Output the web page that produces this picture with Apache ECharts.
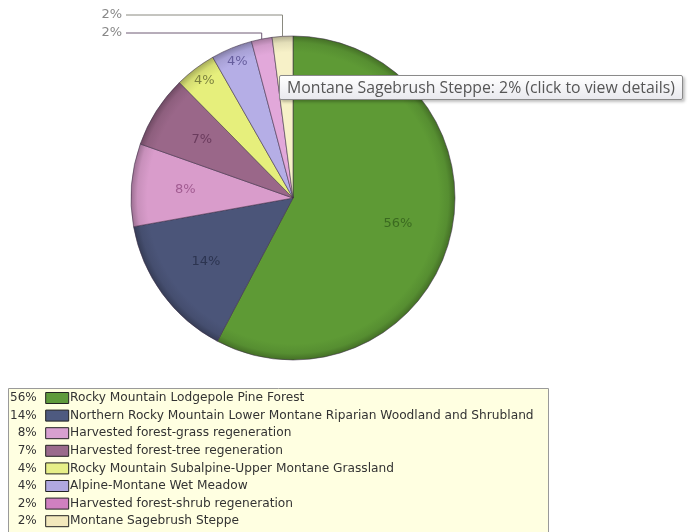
<!DOCTYPE html>
<html>
<head>
<meta charset="utf-8">
<title>Land cover pie</title>
<script src="https://cdn.jsdelivr.net/npm/echarts@6/dist/echarts.min.js"></script>
<style>
  html, body { margin: 0; padding: 0; background: #fff; }
  #chart { width: 691px; height: 532px; }
</style>
</head>
<body>
<div id="chart"></div>
<script>
// categories and values (percent of area)
const categories = [
  'Rocky Mountain Lodgepole Pine Forest',
  'Northern Rocky Mountain Lower Montane Riparian Woodland and Shrubland',
  'Harvested forest-grass regeneration',
  'Harvested forest-tree regeneration',
  'Rocky Mountain Subalpine-Upper Montane Grassland',
  'Alpine-Montane Wet Meadow',
  'Harvested forest-shrub regeneration',
  'Montane Sagebrush Steppe'
]
const percents = [56, 14, 8, 7, 4, 4, 2, 2]

// slice colours, matching label colours
const sliceColors = ['#5e9a35', '#4b5579', '#d99ccb', '#9a6789', '#e6ef7c', '#b5aee6', '#e2a8da', '#f7f1c8']
const labelColors = ['#3b6a20', '#2c3450', '#a25c92', '#6a3b5d', '#7c8240', '#665e9e', '#888', '#888']
const legendColors = ['#5e9a3c', '#4e5a80', '#d8a0d0', '#9a6a8c', '#e6ef88', '#b0a8e0', '#d080c0', '#f2e8bc']

const cx = 293
const cy = 198
const R = 162

// darker edge, slight glossy feel
const shade = (hex, f) => {
  const n = parseInt(hex.slice(1), 16)
  const r = Math.round(((n >> 16) & 255) * f)
  const g = Math.round(((n >> 8) & 255) * f)
  const b = Math.round((n & 255) * f)
  return 'rgb(' + r + ',' + g + ',' + b + ')'
}

const pieData = categories.map((name, i) => {
  const small = percents[i] <= 2
  return {
    name: name,
    value: percents[i],
    itemStyle: {
      color: {
        type: 'radial', x: cx, y: cy, r: R, global: true,
        colorStops: [
          { offset: 0, color: sliceColors[i] },
          { offset: 0.9, color: sliceColors[i] },
          { offset: 0.96, color: shade(sliceColors[i], 0.92) },
          { offset: 1, color: shade(sliceColors[i], 0.72) }
        ]
      }
    },
    label: small
      ? { position: 'outside', color: labelColors[i] }
      : { position: 'inside', color: labelColors[i] },
    labelLine: small
      ? { show: true, lineStyle: { color: i === 7 ? '#8a8a80' : '#6e5a74', width: 1 } }
      : { show: false }
  }
})

const chart = echarts.init(document.getElementById('chart'))

// both legend columns share this text box so rows line up
const legendRich = {
  p: { width: 26, lineHeight: 12, align: 'right', padding: [0, 4, 0, 0], fontSize: 12, fontFamily: 'DejaVu Sans', color: '#333' },
  n: { lineHeight: 12, fontSize: 12.2, fontFamily: 'DejaVu Sans', color: '#333' }
}

const option = {
  animation: false,
  tooltip: {
    trigger: 'item',
    alwaysShowContent: true,
    position: [279, 75],
    formatter: '{b}: {c}% (click to view details)',
    padding: [2, 7],
    borderColor: '#8a8a8a',
    borderWidth: 1,
    backgroundColor: '#fafafc',
    textStyle: { color: '#565656', fontSize: 15.8, lineHeight: 19, fontFamily: 'Open Sans' },
    extraCssText: 'border-radius:2px; box-shadow: 2px 2px 3px rgba(0,0,0,0.25); background: linear-gradient(#ffffff, #e9e9ee);'
  },
  graphic: [
    {
      type: 'rect',
      z: 0,
      shape: { x: 8.5, y: 388.5, width: 540, height: 160 },
      style: { fill: '#ffffe1', stroke: '#9a9a9a', lineWidth: 1 }
    }
  ],
  legend: [
    {
      // percent + swatch column
      orient: 'vertical',
      left: 5,
      top: 387,
      height: 160,
      align: 'right',
      icon: 'rect',
      itemWidth: 23,
      itemHeight: 11,
      itemGap: 5.6,
      selectedMode: false,
      data: categories.map((c, i) => ({
        name: c,
        itemStyle: { color: legendColors[i], borderColor: '#222', borderWidth: 1 }
      })),
      formatter: (name) => '{p|' + percents[categories.indexOf(name)] + '%}',
      textStyle: { fontSize: 12, lineHeight: 12, rich: legendRich }
    },
    {
      // names column
      orient: 'vertical',
      left: 60,
      top: 387,
      height: 160,
      icon: 'none',
      itemWidth: 0,
      itemHeight: 11,
      itemGap: 5.6,
      selectedMode: false,
      data: categories,
      formatter: (name) => '{n|' + name + '}',
      textStyle: { fontSize: 12, lineHeight: 12, rich: legendRich }
    }
  ],
  series: [
    {
      name: 'Land cover',
      type: 'pie',
      center: [cx, cy],
      radius: [0, R],
      startAngle: 90,
      clockwise: true,
      avoidLabelOverlap: false,
      emphasis: { scale: false, disabled: true },
      itemStyle: { borderColor: 'rgba(60,45,70,0.55)', borderWidth: 1 },
      label: {
        show: true,
        formatter: '{c}%',
        fontSize: 13,
        fontFamily: 'DejaVu Sans'
      },
      labelLayout: function (p) {
        const i = p.dataIndex
        if (percents[i] <= 2 && p.labelLinePoints) {
          const ly = i === 7 ? 15 : 33
          const x0 = p.labelLinePoints[0][0]
          const y0 = p.labelLinePoints[0][1]
          return {
            x: 122, y: ly, align: 'right', verticalAlign: 'middle',
            labelLinePoints: [[x0, y0], [x0, ly], [126, ly]]
          }
        }
        const lx = p.labelRect.x + p.labelRect.width / 2
        const lyc = p.labelRect.y + p.labelRect.height / 2
        const d = Math.sqrt((lx - cx) * (lx - cx) + (lyc - cy) * (lyc - cy)) || 1
        const rr = percents[i] === 4 ? 147 : 108
        return {
          x: cx + (lx - cx) / d * rr,
          y: cy + (lyc - cy) / d * rr,
          align: 'center',
          verticalAlign: 'middle'
        }
      },
      data: pieData
    }
  ]
}

chart.setOption(option)
chart.dispatchAction({ type: 'showTip', seriesIndex: 0, dataIndex: 7 })
</script>
</body>
</html>
